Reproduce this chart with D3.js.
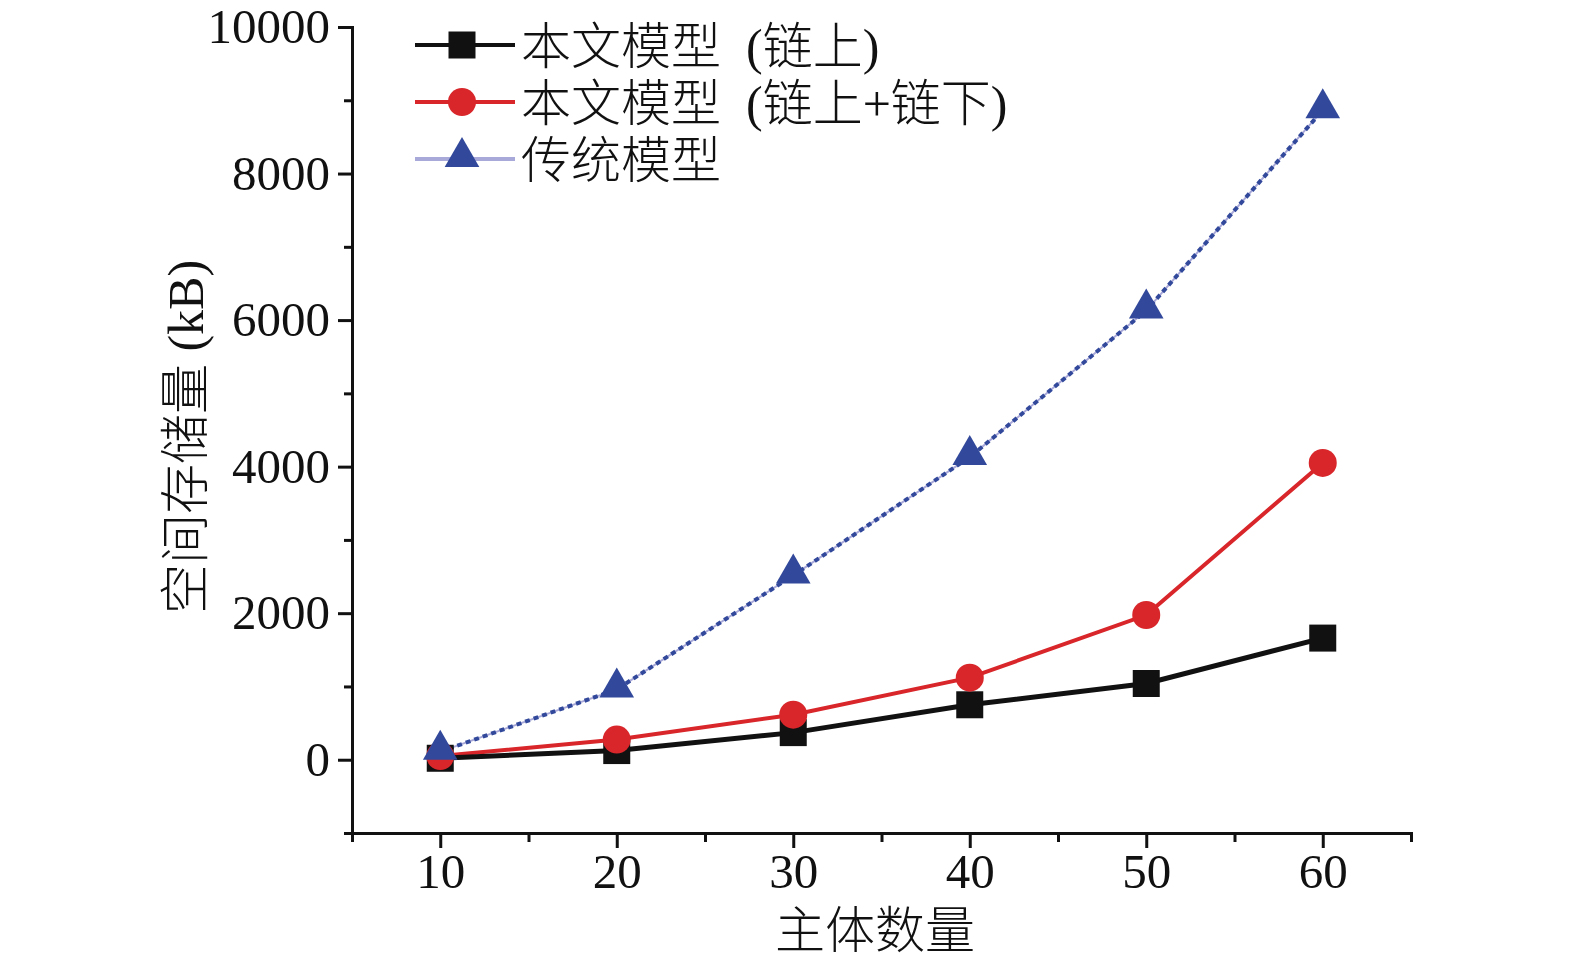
<html>
<head>
  <meta charset="utf-8">
  <script src="https://d3js.org/d3.v7.min.js"></script>
  <style>
    body { margin: 0; background: #fff; }
    text { font-family: "Liberation Serif", "Noto Sans CJK SC", serif; fill: #111; }
  </style>
</head>
<body>
  <svg id="chart" width="1575" height="964"></svg>
  <script>

  // values
  const subjects = [10, 20, 30, 40, 50, 60];
  const onChain = [20, 125, 370, 750, 1040, 1660];
  const onOffChain = [50, 275, 615, 1120, 1975, 4050];
  const traditional = [110, 960, 2515, 4130, 6130, 8865];
  const seriesNames = ["本文模型\u2002(链上)", "本文模型\u2002(链上+链下)", "传统模型"];
  const xMajor = [10, 20, 30, 40, 50, 60];
  const xMinor = [5, 15, 25, 35, 45, 55, 65];
  const yMajor = [0, 2000, 4000, 6000, 8000, 10000];
  const yMinor = [-1000, 1000, 3000, 5000, 7000, 9000];
  const xTitle = "主体数量";
  const yTitle = "空间存储量 (kB)";

  const svg = d3.select("#chart");
  const x = d3.scaleLinear().domain([5, 65]).range([352, 1411]);
  const y = d3.scaleLinear().domain([-1000, 10000]).range([833, 27]);

  function styleAxis(g){
    g.select(".domain").attr("stroke", "#111").attr("stroke-width", 3);
    g.selectAll(".tick line").attr("stroke", "#111").attr("stroke-width", 3);
    g.selectAll("text").attr("font-size", 49).attr("fill", "#111")
      .style("font-family", "'Liberation Serif', serif");
  }

  // minor ticks first
  svg.append("g").attr("transform", "translate(352,0)")
    .call(d3.axisLeft(y).tickValues(yMinor).tickSize(8).tickFormat(""))
    .call(styleAxis);
  svg.append("g").attr("transform", "translate(0,833)")
    .call(d3.axisBottom(x).tickValues(xMinor).tickSize(9).tickFormat(""))
    .call(styleAxis);

  svg.append("g").attr("transform", "translate(352,0)")
    .call(d3.axisLeft(y).tickValues(yMajor).tickSize(14).tickPadding(8).tickSizeOuter(0).tickFormat(d3.format("d")))
    .call(styleAxis);
  svg.append("g").attr("transform", "translate(0,833)")
    .call(d3.axisBottom(x).tickValues(xMajor).tickSize(15).tickPadding(5).tickSizeOuter(0))
    .call(styleAxis);

  svg.append("text")
    .attr("x", 875).attr("y", 948)
    .attr("text-anchor", "middle")
    .attr("font-size", 50).attr("font-weight", 300)
    .text(xTitle);

  svg.append("text")
    .attr("transform", "translate(203,437) rotate(-90)")
    .attr("text-anchor", "middle")
    .attr("font-size", 50).attr("font-weight", 300)
    .text(yTitle);

  const line = d3.line().x((d, i) => x(subjects[i])).y(d => y(d));

  // traditional model: light line with dark blue dashes over it
  svg.append("path").datum(traditional)
    .attr("d", line).attr("fill", "none")
    .attr("stroke", "#a9a9d9").attr("stroke-width", 2);
  svg.append("path").datum(traditional)
    .attr("d", line).attr("fill", "none")
    .attr("stroke", "#32499b").attr("stroke-width", 4)
    .attr("stroke-dasharray", "5,4");

  svg.append("path").datum(onOffChain)
    .attr("d", line).attr("fill", "none")
    .attr("stroke", "#d8262a").attr("stroke-width", 4);

  svg.append("path").datum(onChain)
    .attr("d", line).attr("fill", "none")
    .attr("stroke", "#111").attr("stroke-width", 5);

  const sq = d3.symbol().type(d3.symbolSquare).size(27 * 27);
  const circ = d3.symbol().type(d3.symbolCircle).size(Math.PI * 14 * 14);
  const tri = d3.symbol().type(d3.symbolTriangle).size(520);

  svg.selectAll(".m1").data(onChain).join("path")
    .attr("transform", (d, i) => "translate(" + x(subjects[i]) + "," + y(d) + ")")
    .attr("d", sq).attr("fill", "#111");
  svg.selectAll(".m2").data(onOffChain).join("path")
    .attr("transform", (d, i) => "translate(" + x(subjects[i]) + "," + y(d) + ")")
    .attr("d", circ).attr("fill", "#d8262a");
  svg.selectAll(".m3").data(traditional).join("path")
    .attr("transform", (d, i) => "translate(" + x(subjects[i]) + "," + (y(d) - 2) + ")")
    .attr("d", tri).attr("fill", "#32499b");

  // legend
  const legendRows = [
    {name: seriesNames[0], color: "#111", lineColor: "#111", w: 4, sym: sq},
    {name: seriesNames[1], color: "#d8262a", lineColor: "#d8262a", w: 4, sym: circ},
    {name: seriesNames[2], color: "#32499b", lineColor: "#a9a9d9", w: 4, sym: tri}
  ];
  const lg = svg.append("g");
  legendRows.forEach(function(r, i){
    const cy = 45 + i * 57;
    lg.append("line").attr("x1", 415).attr("x2", 515).attr("y1", cy).attr("y2", cy)
      .attr("stroke", r.lineColor).attr("stroke-width", r.w);
    lg.append("path").attr("d", r.sym).attr("fill", r.color)
      .attr("transform", "translate(462," + (i == 2 ? cy - 2 : cy) + ")");
    lg.append("text").attr("x", 521).attr("y", cy + 19)
      .attr("font-size", 50).attr("font-weight", 300).text(r.name);
  });

  </script>
</body>
</html>
